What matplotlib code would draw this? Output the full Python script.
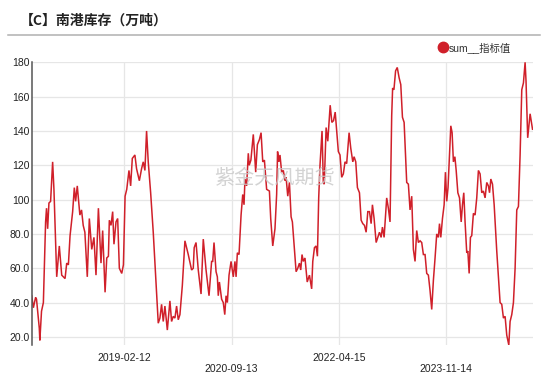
import matplotlib
matplotlib.use("Agg")
import matplotlib.pyplot as plt
import matplotlib.dates as mdates
from matplotlib.lines import Line2D
from matplotlib.ticker import FuncFormatter
import pandas as pd

plt.rcParams['font.family'] = ['Liberation Sans', 'Noto Sans CJK SC']

title = "【C】南港库存（万吨）"
series_name = "sum__指标值"
watermark = "紫金天风期货"

dates = [
    "2017-09-30", "2017-10-09", "2017-10-21", "2017-10-26", "2017-11-10", "2017-11-13",
    "2017-11-22", "2017-12-02", "2017-12-14", "2017-12-19", "2017-12-25", "2018-01-01",
    "2018-01-10", "2018-01-21", "2018-01-28", "2018-02-12", "2018-02-26", "2018-03-11",
    "2018-03-29", "2018-04-07", "2018-04-16", "2018-04-25", "2018-05-09", "2018-05-18",
    "2018-05-25", "2018-06-03", "2018-06-17", "2018-06-26", "2018-07-05", "2018-07-14",
    "2018-07-27", "2018-08-07", "2018-08-20", "2018-09-01", "2018-09-12", "2018-09-25",
    "2018-10-09", "2018-10-18", "2018-10-31", "2018-11-09", "2018-11-18", "2018-11-23",
    "2018-12-02", "2018-12-11", "2018-12-18", "2018-12-29", "2019-01-07", "2019-01-16",
    "2019-01-29", "2019-02-07", "2019-02-16", "2019-02-25", "2019-03-09", "2019-03-18",
    "2019-03-27", "2019-04-10",
    "2019-04-19", "2019-05-04", "2019-05-16", "2019-05-25", "2019-06-03", "2019-06-12",
    "2019-06-21", "2019-07-04", "2019-07-18", "2019-08-02", "2019-08-14", "2019-08-23",
    "2019-09-01", "2019-09-10", "2019-09-19", "2019-10-02", "2019-10-16", "2019-10-25",
    "2019-11-03", "2019-11-12", "2019-11-21", "2019-11-30", "2019-12-09", "2019-12-22",
    "2020-01-05", "2020-01-23", "2020-02-10", "2020-02-19", "2020-02-24", "2020-03-05",
    "2020-03-17", "2020-04-01", "2020-04-13", "2020-04-28", "2020-05-14", "2020-05-28",
    "2020-06-03", "2020-06-10", "2020-06-21", "2020-06-28", "2020-07-03", "2020-07-09",
    "2020-07-21", "2020-07-30", "2020-08-07", "2020-08-14", "2020-08-21", "2020-08-30",
    "2020-09-10", "2020-09-22", "2020-10-01",
    "2020-10-07", "2020-10-14", "2020-10-23", "2020-11-03", "2020-11-12", "2020-11-19",
    "2020-11-24", "2020-12-03", "2020-12-12", "2020-12-17", "2020-12-26", "2021-01-08",
    "2021-01-21", "2021-01-30", "2021-02-10", "2021-02-19", "2021-02-28", "2021-03-09",
    "2021-03-21", "2021-04-05", "2021-04-12", "2021-04-23", "2021-05-05", "2021-05-14",
    "2021-05-19", "2021-05-26", "2021-06-01", "2021-06-10", "2021-06-19", "2021-06-28",
    "2021-07-04", "2021-07-13", "2021-07-22", "2021-07-31", "2021-08-07", "2021-08-16",
    "2021-08-27", "2021-09-05", "2021-09-14", "2021-09-21", "2021-09-28", "2021-10-05",
    "2021-10-14", "2021-10-19", "2021-10-26", "2021-11-07", "2021-11-19", "2021-11-25",
    "2021-12-04", "2021-12-13", "2021-12-20", "2021-12-27", "2022-01-03", "2022-01-14",
    "2022-01-21", "2022-01-26", "2022-02-05", "2022-02-14", "2022-02-27", "2022-03-08",
    "2022-03-17", "2022-03-26",
    "2022-04-03", "2022-04-12", "2022-04-21", "2022-04-30", "2022-05-09", "2022-05-18",
    "2022-05-27", "2022-06-09", "2022-06-18", "2022-06-29", "2022-07-06", "2022-07-15",
    "2022-07-24", "2022-08-04", "2022-08-13", "2022-08-22", "2022-08-31", "2022-09-09",
    "2022-09-18", "2022-09-27", "2022-10-06", "2022-10-13", "2022-10-22", "2022-11-02",
    "2022-11-11", "2022-11-20", "2022-11-29", "2022-12-06", "2022-12-15", "2022-12-29",
    "2023-01-07", "2023-01-16", "2023-01-25", "2023-01-30", "2023-02-06", "2023-02-15",
    "2023-02-24", "2023-03-06", "2023-03-15", "2023-03-24", "2023-04-02", "2023-04-16",
    "2023-04-25", "2023-05-04", "2023-05-13", "2023-05-22", "2023-05-31", "2023-06-09",
    "2023-06-18", "2023-06-27", "2023-07-06", "2023-07-15", "2023-07-24", "2023-08-02",
    "2023-08-11", "2023-08-20", "2023-08-29",
    "2023-09-07", "2023-09-16", "2023-09-25", "2023-10-04", "2023-10-10", "2023-10-17",
    "2023-10-26", "2023-11-04", "2023-11-11", "2023-11-18", "2023-11-25", "2023-12-03",
    "2023-12-10", "2023-12-17", "2023-12-24", "2024-01-01", "2024-01-08", "2024-01-17",
    "2024-01-26", "2024-02-04", "2024-02-11", "2024-02-18", "2024-02-25", "2024-03-05",
    "2024-03-11", "2024-03-18", "2024-03-25", "2024-04-01", "2024-04-10", "2024-04-19",
    "2024-04-28", "2024-05-07", "2024-05-16", "2024-05-25", "2024-06-03", "2024-06-12",
    "2024-06-21", "2024-06-30", "2024-07-06", "2024-07-13", "2024-07-22", "2024-07-31",
    "2024-08-14", "2024-08-23", "2024-09-01", "2024-09-10", "2024-09-19", "2024-09-28",
    "2024-10-07", "2024-10-18", "2024-10-25", "2024-11-03", "2024-11-12", "2024-11-21",
    "2024-11-30", "2024-12-09", "2024-12-18", "2024-12-27", "2025-01-05", "2025-01-14",
    "2025-01-19", "2025-01-28", "2025-02-10", "2025-02-23",
]

values = [
    44, 37, 43, 42, 25, 18,
    35, 40, 87, 95, 83, 98,
    99, 122, 106, 55, 73, 56,
    54, 63, 62, 79, 93, 107,
    99, 108, 91, 94, 85, 81,
    55, 89, 71, 78, 56, 95,
    63, 82, 46, 66, 67, 88,
    85, 93, 74, 87, 89, 60,
    57, 62, 102, 106, 117, 108,
    124, 126,
    118, 111, 118, 122, 117, 140,
    122, 104, 81, 52, 28, 31,
    39, 29, 38, 24, 41, 29,
    32, 31, 38, 30, 33, 50,
    76, 68, 59, 60, 72, 75,
    59, 45, 77, 59, 44, 64,
    64, 75, 58, 55, 44, 52,
    42, 40, 33, 44, 40, 56,
    64, 55, 64,
    55, 69, 68, 91, 103, 97,
    112, 108, 127, 120, 123, 138,
    116, 132, 135, 139, 122, 123,
    106, 105, 89, 73, 83, 103,
    128, 122, 126, 116, 117, 111,
    113, 102, 110, 90, 87, 74,
    58, 60, 63, 59, 68, 64,
    66, 60, 52, 56, 48, 64,
    72, 73, 67, 101, 120, 140,
    110, 109, 142, 134, 155, 145,
    146, 151,
    140, 128, 126, 113, 115, 122,
    121, 139, 130, 122, 125, 122,
    107, 104, 88, 86, 85, 81,
    93, 93, 86, 97, 89, 75,
    78, 81, 78, 84, 78, 101,
    95, 87, 149, 165, 164, 175,
    177, 171, 167, 148, 145, 110,
    109, 94, 102, 71, 64, 82,
    75, 76, 75, 68, 68, 57,
    56, 47, 36,
    53, 66, 80, 78, 86, 78,
    89, 97, 116, 99, 107, 126,
    143, 139, 122, 125, 117, 104,
    101, 87, 97, 104, 87, 69,
    70, 57, 78, 79, 92, 91,
    101, 117, 115, 104, 105, 101,
    110, 108, 104, 112, 109, 97,
    70, 55, 40, 39, 31, 32,
    21, 15.3, 29, 33, 40, 60,
    94, 96, 126, 164, 168, 180,
    169, 136, 150, 141,
]

tick_dates = ["2019-02-12", "2020-09-13", "2022-04-15", "2023-11-14"]
y_ticks = [20, 40, 60, 80, 100, 120, 140, 160, 180]

red = '#d0202a'
W, H = 550, 374

fig = plt.figure(figsize=(W / 100, H / 100), dpi=100)
ax = fig.add_axes([31.7 / W, 1 - 345 / H, (532.7 - 31.7) / W, (345 - 62.3) / H])

x = pd.to_datetime(dates)
ax.plot(x, values, color=red, lw=1.1, solid_joinstyle='miter')

ax.set_xlim(pd.Timestamp("2017-09-30"), pd.Timestamp("2025-02-24"))
ax.set_ylim(15.3, 180)

ax.set_yticks(y_ticks)
ax.yaxis.set_major_formatter(FuncFormatter(lambda v, p: '%d' % v if v >= 100 else '%.1f' % v))
ax.set_xticks(pd.to_datetime(tick_dates))
ax.set_xticklabels(tick_dates)

ax.grid(True, color='#e6e6e6', lw=0.9)
ax.set_axisbelow(True)
for s in ['top', 'right', 'bottom']:
    ax.spines[s].set_visible(False)
ax.spines['left'].set_color('#555555')
ax.spines['left'].set_linewidth(1.1)

ax.tick_params(axis='both', length=0, labelsize=7.5, labelcolor='#222222')
ax.tick_params(axis='y', pad=1.5)
# staggered date labels
for i, t in enumerate(ax.xaxis.get_major_ticks()):
    t.set_pad(5.5 if i % 2 == 0 else 14)

# title and rule under it
fig.text(20 / W, 1 - 20.5 / H, title, fontsize=10, fontweight='bold', color='#222222',
         va='center', ha='left', family=['Noto Sans CJK SC'])
fig.add_artist(Line2D([8 / W, 540 / W], [1 - 35 / H, 1 - 35 / H], color='#b0b0b0', lw=1.1))

# legend
fig.add_artist(Line2D([443 / W], [1 - 47.3 / H], marker='o', markersize=7.5, color=red, linestyle='none'))
fig.text(449 / W, 1 - 47.3 / H, series_name, fontsize=7.5, color='#333333', va='center', ha='left')

# watermark
fig.text(275 / W, 1 - 179 / H, watermark, fontsize=14.5, color='#c8c8c8', alpha=0.8,
         ha='center', va='center', family=['Noto Sans CJK SC'])

fig.savefig('out.png', dpi=100)
